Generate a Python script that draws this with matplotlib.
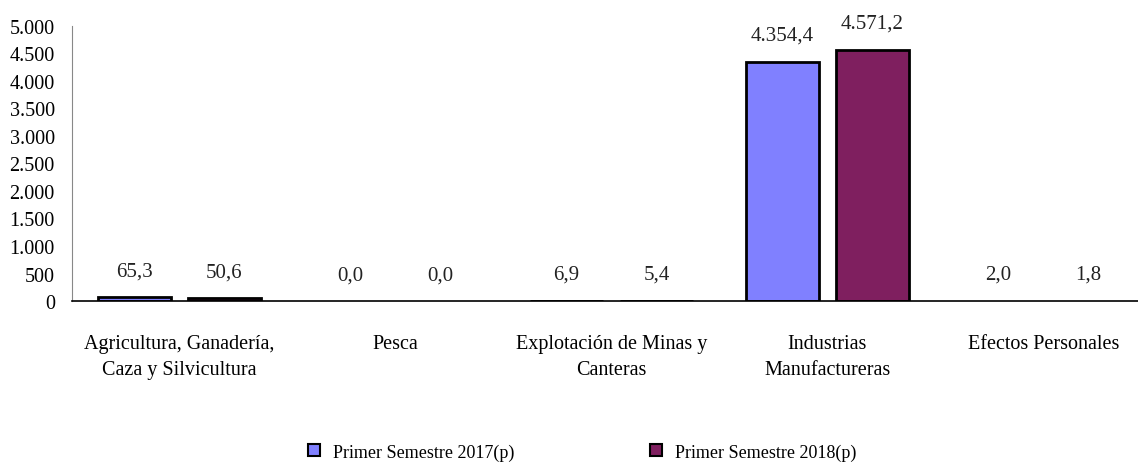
"""Bar chart: export values by sector, first semester 2017 vs 2018."""

import matplotlib.pyplot as plt
from matplotlib import patches
import numpy as np

plt.rcParams['font.family'] = ['Liberation Serif', 'DejaVu Serif']

categories = ['Agricultura, Ganadería,\nCaza y Silvicultura', 'Pesca',
              'Explotación de Minas y\nCanteras', 'Industrias\nManufactureras',
              'Efectos Personales']
serie_2017 = [65.3, 0.0, 6.9, 4354.4, 2.0]
serie_2018 = [50.6, 0.0, 5.4, 4571.2, 1.8]
series_names = ['Primer Semestre 2017(p)', 'Primer Semestre 2018(p)']
yticks = np.arange(0, 5001, 500)

color_2017 = '#8080FF'
color_2018 = '#7F1F5F'

W, H = 1138, 464
fig = plt.figure(figsize=(W / 100, H / 100), dpi=100)
# axes extends slightly past the right edge, as in the original
ax = fig.add_axes([71.5 / W, 1 - 302 / H, 1080 / W, 275 / H])

x = np.arange(len(categories))
bw = 0.338
off = 0.208


def edge_widths(vals):
    # tiny bars (< ~0.1 px) vanish in the original
    return [2 if v > 3 else 0 for v in vals]


b1 = ax.bar(x - off, serie_2017, bw, color=color_2017, edgecolor='black',
            linewidth=edge_widths(serie_2017))
b2 = ax.bar(x + off, serie_2018, bw, color=color_2018, edgecolor='black',
            linewidth=edge_widths(serie_2018))


def fmt(v):
    s = f'{v:,.1f}'
    return s.replace(',', 'X').replace('.', ',').replace('X', '.')


for bars, vals in ((b1, serie_2017), (b2, serie_2018)):
    for r, v in zip(bars, vals):
        ax.annotate(fmt(v), (r.get_x() + r.get_width() / 2, v), xytext=(0, 19),
                    textcoords='offset points', ha='center', va='center',
                    fontsize=15, color='#222222')

ax.set_xlim(-0.5, len(categories) - 0.5)
ax.set_ylim(0, 5000)
ax.set_yticks(yticks)
ax.set_yticklabels([f'{t:,}'.replace(',', '.') for t in yticks], fontsize=14.5)
ax.set_xticks(x)
ax.set_xticklabels(categories, fontsize=14.5, linespacing=1.45)
ax.tick_params(length=0)
ax.tick_params(axis='y', pad=12)
ax.tick_params(axis='x', pad=24)

for s in ('top', 'right'):
    ax.spines[s].set_visible(False)
ax.spines['left'].set_color('#888888')
ax.spines['bottom'].set_color('black')
ax.spines['bottom'].set_linewidth(1.2)

handles = [patches.Patch(facecolor=color_2017, edgecolor='black', linewidth=1.5),
           patches.Patch(facecolor=color_2018, edgecolor='black', linewidth=1.5)]
fig.legend(handles, series_names, loc='center', bbox_to_anchor=(582 / W, 1 - 453 / H),
           ncol=2, frameon=False, fontsize=13, handlelength=0.66, handleheight=0.66,
           columnspacing=7.5, handletextpad=0.72)

fig.savefig('out.png', dpi=100)
